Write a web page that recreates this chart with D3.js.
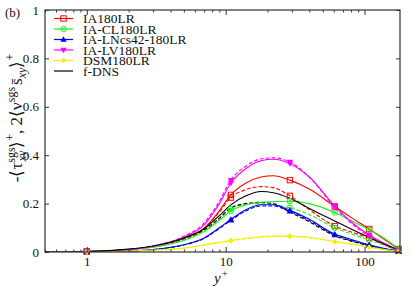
<!DOCTYPE html>
<html><head><meta charset="utf-8">
<script src="https://cdn.jsdelivr.net/npm/d3@7"></script>
<style>body{margin:0;background:#fff}svg{display:block}text{font-family:"Liberation Serif","Times New Roman",serif}</style>
</head><body>
<script>
const yPlus = [0.5, 1, 2, 3, 5, 7, 9, 10.9, 14, 18, 22, 29, 40, 61, 80, 108, 140, 176];
const markerIdx = [1, 7, 11, 13, 15, 17];
const redSolid = [0, 0.002, 0.01, 0.022, 0.058, 0.098, 0.17, 0.236, 0.285, 0.31, 0.315, 0.297, 0.26, 0.188, 0.143, 0.095, 0.05, 0.012];
const redDashed = [0, 0.002, 0.01, 0.022, 0.057, 0.097, 0.165, 0.225, 0.258, 0.27, 0.266, 0.232, 0.175, 0.107, 0.083, 0.058, 0.03, 0.006];
const greenSolid = [0, 0.002, 0.01, 0.02, 0.048, 0.085, 0.13, 0.17, 0.195, 0.205, 0.208, 0.21, 0.2, 0.163, 0.13, 0.092, 0.055, 0.014];
const greenDashed = [0, 0.002, 0.01, 0.021, 0.05, 0.088, 0.135, 0.178, 0.198, 0.2, 0.196, 0.182, 0.155, 0.1, 0.075, 0.05, 0.026, 0.005];
const blueSolid = [0, 0.001, 0.004, 0.01, 0.03, 0.058, 0.1, 0.135, 0.175, 0.195, 0.195, 0.172, 0.135, 0.074, 0.052, 0.03, 0.014, 0.003];
const blueDashed = [0, 0.001, 0.004, 0.01, 0.029, 0.056, 0.097, 0.131, 0.17, 0.19, 0.19, 0.168, 0.13, 0.07, 0.048, 0.027, 0.012, 0.002];
const magentaSolid = [0, 0.002, 0.01, 0.024, 0.062, 0.112, 0.2, 0.285, 0.345, 0.377, 0.383, 0.365, 0.31, 0.19, 0.125, 0.07, 0.035, 0.006];
const magentaDashed = [0, 0.002, 0.01, 0.025, 0.065, 0.12, 0.21, 0.297, 0.355, 0.385, 0.389, 0.372, 0.31, 0.185, 0.12, 0.065, 0.03, 0.005];
const yellowSolid = [0, 0.001, 0.004, 0.008, 0.016, 0.03, 0.04, 0.048, 0.057, 0.063, 0.066, 0.066, 0.061, 0.043, 0.033, 0.02, 0.01, 0.002];
const yellowDashed = [0, 0.001, 0.004, 0.008, 0.015, 0.028, 0.038, 0.046, 0.055, 0.061, 0.064, 0.064, 0.059, 0.042, 0.032, 0.019, 0.009, 0.002];
const blackSolid = [0, 0.002, 0.012, 0.025, 0.058, 0.096, 0.15, 0.195, 0.232, 0.25, 0.245, 0.222, 0.18, 0.128, 0.095, 0.06, 0.032, 0.008];
const blackDashed = [0, 0.002, 0.011, 0.024, 0.055, 0.092, 0.14, 0.183, 0.2, 0.205, 0.2, 0.165, 0.125, 0.067, 0.045, 0.026, 0.012, 0.003];
const legendLabels = ["IA180LR", "IA-CL180LR", "IA-LNcs42-180LR", "IA-LV180LR", "DSM180LR", "f-DNS"];
const xTickValues = [1, 10, 100];
const yTickValues = [0, 0.2, 0.4, 0.6, 0.8, 1];

const series = [
  {name: legendLabels[0], color: "#ff0000", marker: "squareOpen", solid: redSolid, dashed: redDashed},
  {name: legendLabels[1], color: "#22ee22", marker: "circle", solid: greenSolid, dashed: greenDashed},
  {name: legendLabels[2], color: "#0000ff", marker: "triUp", solid: blueSolid, dashed: blueDashed},
  {name: legendLabels[3], color: "#ff00ff", marker: "triDown", solid: magentaSolid, dashed: magentaDashed},
  {name: legendLabels[4], color: "#f2f200", marker: "diamond", solid: yellowSolid, dashed: yellowDashed},
  {name: legendLabels[5], color: "#000000", marker: null, solid: blackSolid, dashed: blackDashed}
];

const W = 415, H = 286;
const m = {l: 45, r: 400, t: 10, b: 252};
const svg = d3.select("body").append("svg").attr("width", W).attr("height", H);
const x = d3.scaleLog().domain([0.5, 180]).range([m.l, m.r]);
const y = d3.scaleLinear().domain([0, 1]).range([m.b, m.t]);

svg.append("clipPath").attr("id", "c").append("rect")
  .attr("x", m.l).attr("y", m.t).attr("width", m.r - m.l).attr("height", m.b - m.t);

function drawMarker(g, type, cx, cy, color, s) {
  s = s || 3;
  if (type === "squareOpen") {
    g.append("rect").attr("x", cx - s).attr("y", cy - s).attr("width", 2*s).attr("height", 2*s)
      .attr("fill", "none").attr("stroke", color).attr("stroke-width", 1);
  } else if (type === "circle") {
    g.append("circle").attr("cx", cx).attr("cy", cy).attr("r", s).attr("fill", "none").attr("stroke", color).attr("stroke-width", 1);
    g.append("circle").attr("cx", cx).attr("cy", cy).attr("r", 1.2).attr("fill", color);
  } else if (type === "triUp") {
    g.append("path").attr("d", `M${cx},${cy - s - 0.5}L${cx + s + 0.5},${cy + s - 0.5}L${cx - s - 0.5},${cy + s - 0.5}Z`).attr("fill", color);
  } else if (type === "triDown") {
    g.append("path").attr("d", `M${cx},${cy + s + 0.5}L${cx + s + 0.5},${cy - s + 0.5}L${cx - s - 0.5},${cy - s + 0.5}Z`).attr("fill", color);
  } else if (type === "diamond") {
    g.append("path").attr("d", `M${cx},${cy - s}L${cx + s},${cy}L${cx},${cy + s}L${cx - s},${cy}Z`).attr("fill", color);
  }
}

const line = d3.line().x(d => x(d[0])).y(d => y(d[1])).curve(d3.curveMonotoneX);
const plot = svg.append("g").attr("clip-path", "url(#c)");
series.forEach(s => {
  const pts = yPlus.map((v, i) => [v, s.dashed[i]]);
  plot.append("path").attr("d", line(pts)).attr("fill", "none").attr("stroke", s.color)
    .attr("stroke-width", 1.1).attr("stroke-dasharray", "4,2");
});
series.forEach(s => {
  const pts = yPlus.map((v, i) => [v, s.solid[i]]);
  plot.append("path").attr("d", line(pts)).attr("fill", "none").attr("stroke", s.color).attr("stroke-width", 1.1);
});
const mk = svg.append("g");
series.forEach(s => {
  if (!s.marker) return;
  markerIdx.forEach(i => {
    drawMarker(mk, s.marker, x(yPlus[i]), y(s.dashed[i]), s.color, 2.7);
    drawMarker(mk, s.marker, x(yPlus[i]), y(s.solid[i]), s.color, 2.7);
  });
});

const axColor = "#333";
svg.append("rect").attr("x", m.l).attr("y", m.t).attr("width", m.r - m.l).attr("height", m.b - m.t)
  .attr("fill", "none").attr("stroke", axColor).attr("stroke-width", 1.2);

const minor = [];
[0.1, 1, 10, 100].forEach(dec => { for (let k = 2; k <= 9; k++) { const v = dec * k; if (v >= 0.5 && v <= 180) minor.push(v); } });
const xAxisB = d3.axisBottom(x).tickValues(xTickValues).tickFormat(d3.format("d")).tickSizeInner(-5).tickSizeOuter(0).tickPadding(8);
const gxb = svg.append("g").attr("transform", `translate(0,${m.b})`).call(xAxisB);
gxb.select(".domain").remove();
gxb.selectAll("line").attr("stroke", axColor);
gxb.selectAll("text").attr("font-size", 13).attr("fill", "#111").attr("dy", "0.45em");
const gxbm = svg.append("g").attr("transform", `translate(0,${m.b})`).call(d3.axisBottom(x).tickValues(minor).tickFormat("").tickSizeInner(-2.5).tickSizeOuter(0));
gxbm.select(".domain").remove(); gxbm.selectAll("line").attr("stroke", axColor);
const gxt = svg.append("g").attr("transform", `translate(0,${m.t})`).call(d3.axisTop(x).tickValues(xTickValues).tickFormat("").tickSizeInner(-5).tickSizeOuter(0));
gxt.select(".domain").remove(); gxt.selectAll("line").attr("stroke", axColor);
const gxtm = svg.append("g").attr("transform", `translate(0,${m.t})`).call(d3.axisTop(x).tickValues(minor).tickFormat("").tickSizeInner(-2.5).tickSizeOuter(0));
gxtm.select(".domain").remove(); gxtm.selectAll("line").attr("stroke", axColor);

const gyl = svg.append("g").attr("transform", `translate(${m.l},0)`).call(d3.axisLeft(y).tickValues(yTickValues).tickFormat(d => d === 0 ? "0" : d === 1 ? "1" : d3.format(".1f")(d)).tickSizeInner(-4).tickSizeOuter(0).tickPadding(6));
gyl.select(".domain").remove(); gyl.selectAll("line").attr("stroke", axColor);
gyl.selectAll("text").attr("font-size", 13).attr("fill", "#111");
const gyr = svg.append("g").attr("transform", `translate(${m.r},0)`).call(d3.axisRight(y).tickValues(yTickValues).tickFormat("").tickSizeInner(-4).tickSizeOuter(0));
gyr.select(".domain").remove(); gyr.selectAll("line").attr("stroke", axColor);

svg.append("text").attr("x", 5).attr("y", 17).attr("font-size", 13).attr("fill", "#111").text("(b)");

// x label
svg.append("text").attr("x", 214).attr("y", 283).attr("font-size", 15).attr("font-style", "italic").attr("fill", "#111").text("y");
svg.append("text").attr("x", 222).attr("y", 276.5).attr("font-size", 10).attr("fill", "#111").text("+");

// y label (rotated), stacked scripts
const yl = svg.append("text").attr("transform", `translate(22,118) rotate(-90)`).attr("text-anchor", "middle")
  .attr("font-size", 17).attr("fill", "#111");
const sc = 12;
yl.append("tspan").text("-⟨τ");
yl.append("tspan").attr("font-size", sc).attr("dy", -7).text("sgs");
yl.append("tspan").attr("font-size", sc).attr("font-style", "italic").attr("dx", -14).attr("dy", 11).text("xy");
yl.append("tspan").attr("dy", -4).attr("dx", 3).text("⟩");
yl.append("tspan").attr("font-size", sc).attr("dy", -8).text("+");
yl.append("tspan").attr("dy", 8).text(", 2⟨ν");
yl.append("tspan").attr("font-size", sc).attr("dy", -7).text("sgs");
yl.append("tspan").attr("dy", 7).attr("dx", 2).text("s\u0304");
yl.append("tspan").attr("font-size", sc).attr("font-style", "italic").attr("dy", 4).text("xy");
yl.append("tspan").attr("dy", -4).text("⟩");
yl.append("tspan").attr("font-size", sc).attr("dy", -8).text("+");

// legend
const lg = svg.append("g");
series.forEach((s, i) => {
  const yy = 18.5 + i * 10.5;
  lg.append("line").attr("x1", 54).attr("x2", 73).attr("y1", yy).attr("y2", yy).attr("stroke", s.color).attr("stroke-width", 1.2);
  if (s.marker) drawMarker(lg, s.marker, 63.5, yy, s.color, 2.7);
  lg.append("text").attr("x", 83).attr("y", yy + 4.5).attr("font-size", 13.5).attr("fill", "#111").text(s.name);
});
</script>
</body></html>
